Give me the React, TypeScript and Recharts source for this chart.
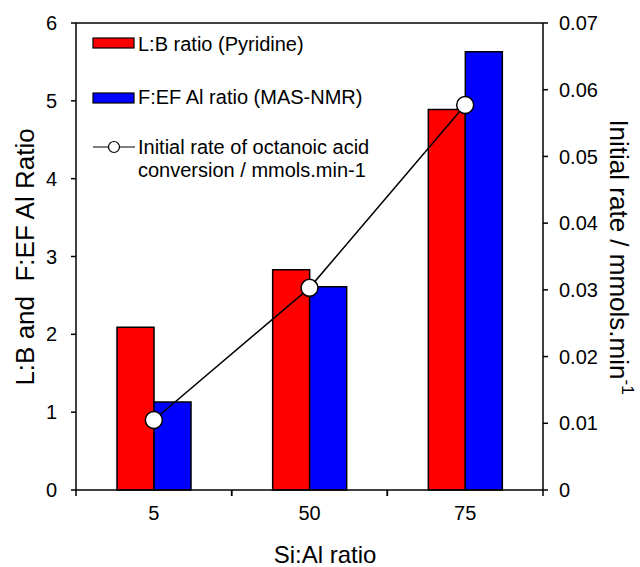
import { Bar, ComposedChart, Label, Legend, Line, ReferenceLine, XAxis, YAxis } from "recharts";

const siAlRatios = ["5", "50", "75"];
const lbRatio = [2.09, 2.83, 4.89];
const fefRatio = [1.13, 2.61, 5.63];
const initialRate = [0.0105, 0.0303, 0.0577];
const leftTicks = [0, 1, 2, 3, 4, 5, 6];
const rightTicks = [0, 0.01, 0.02, 0.03, 0.04, 0.05, 0.06, 0.07];

const data = siAlRatios.map((label, i) => ({
  label,
  lb: lbRatio[i],
  fef: fefRatio[i],
  rate: initialRate[i],
}));

const FONT = '"Liberation Sans", Arial, sans-serif';
const BAND = (543 - 76) / 3;

function XTick({ x, y, payload }: any) {
  return (
    <g>
      <line x1={x - BAND / 2} y1={y} x2={x - BAND / 2} y2={y + 6} stroke="#000" strokeWidth={1.5} />
      <line x1={x + BAND / 2} y1={y} x2={x + BAND / 2} y2={y + 6} stroke="#000" strokeWidth={1.5} />
      <text x={x} y={y + 30} textAnchor="middle" fontSize={20} fill="#000" fontFamily={FONT}>
        {payload.value}
      </text>
    </g>
  );
}

function ChartLegend() {
  return (
    <svg width={440} height={190} style={{ display: "block", fontFamily: FONT, overflow: "visible" }}>
      <rect x={93} y={38} width={41} height={10} fill="#ff0000" stroke="#000" strokeWidth={1.2} />
      <text x={138} y={51} fontSize={20} fill="#000">L:B ratio (Pyridine)</text>
      <rect x={93} y={93} width={41} height={10} fill="#0000ff" stroke="#000" strokeWidth={1.2} />
      <text x={138} y={104} fontSize={20} fill="#000">F:EF Al ratio (MAS-NMR)</text>
      <line x1={93} y1={147} x2={135} y2={147} stroke="#000" strokeWidth={1.2} />
      <circle cx={114} cy={147} r={5.5} fill="#fff" stroke="#000" strokeWidth={1.2} />
      <text x={138} y={154} fontSize={20} fill="#000">Initial rate of octanoic acid</text>
      <text x={138} y={177} fontSize={20} fill="#000">conversion / mmols.min-1</text>
    </svg>
  );
}

export default function App() {
  return (
    <div style={{ position: "absolute", left: 0, top: 0 }}>
      <ComposedChart
        width={640}
        height={567}
        data={data}
        margin={{ top: 23, right: 0, bottom: 0, left: 0 }}
        barGap={0}
        style={{ fontFamily: FONT }}
      >
        <XAxis
          dataKey="label"
          height={77}
          tickLine={false}
          tickSize={0}
          tickMargin={0}
          tick={<XTick />}
          axisLine={{ stroke: "#000", strokeWidth: 1.5 }}
          interval={0}
        >
          <Label
            content={() => (
              <text x={325} y={563} textAnchor="middle" fontSize={24} fill="#000" fontFamily={FONT}>
                Si:Al ratio
              </text>
            )}
          />
        </XAxis>
        <YAxis
          yAxisId="left"
          width={76}
          domain={[0, 6]}
          ticks={leftTicks}
          interval={0}
          tickSize={5}
          tickMargin={14}
          tick={{ fill: "#000", fontSize: 20 }}
          axisLine={{ stroke: "#000", strokeWidth: 1.5 }}
          tickLine={{ stroke: "#000", strokeWidth: 1.5 }}
        >
          <Label
            content={() => (
              <text
                x={25}
                y={257}
                transform="rotate(-90 25 257)"
                textAnchor="middle"
                dominantBaseline="central"
                fontSize={26}
                fill="#000"
                fontFamily={FONT}
                style={{ whiteSpace: "pre" }}
              >
                L:B and  F:EF Al Ratio
              </text>
            )}
          />
        </YAxis>
        <YAxis
          yAxisId="right"
          orientation="right"
          width={97}
          domain={[0, 0.07]}
          ticks={rightTicks}
          interval={0}
          tickSize={5}
          tickMargin={11}
          tickFormatter={(v: number) => (v === 0 ? "0" : v.toFixed(2))}
          tick={{ fill: "#000", fontSize: 20 }}
          axisLine={{ stroke: "#000", strokeWidth: 1.5 }}
          tickLine={{ stroke: "#000", strokeWidth: 1.5 }}
        >
          <Label
            content={() => (
              <text
                x={619}
                y={257}
                transform="rotate(90 619 257)"
                textAnchor="middle"
                dominantBaseline="central"
                fontSize={26}
                fill="#000"
                fontFamily={FONT}
              >
                <tspan>Initial rate / mmols.min</tspan>
                <tspan dy={-9} fontSize={17}>-1</tspan>
              </text>
            )}
          />
        </YAxis>
        <ReferenceLine yAxisId="left" y={6} stroke="#000" strokeWidth={1.5} />
        <Legend
          layout="vertical"
          align="center"
          verticalAlign="middle"
          content={() => <ChartLegend />}
          wrapperStyle={{ position: "absolute", left: 0, top: 0, width: 440, height: 190 }}
        />
        <Bar
          yAxisId="left"
          dataKey="lb"
          barSize={37}
          fill="#ff0000"
          stroke="#000"
          strokeWidth={1.5}
          isAnimationActive={false}
        />
        <Bar
          yAxisId="left"
          dataKey="fef"
          barSize={37}
          fill="#0000ff"
          stroke="#000"
          strokeWidth={1.5}
          isAnimationActive={false}
        />
        <Line
          yAxisId="right"
          dataKey="rate"
          type="linear"
          stroke="#000"
          strokeWidth={1.5}
          dot={{ r: 8.5, fill: "#fff", stroke: "#000", strokeWidth: 1.5 }}
          activeDot={false}
          isAnimationActive={false}
        />
      </ComposedChart>
    </div>
  );
}
